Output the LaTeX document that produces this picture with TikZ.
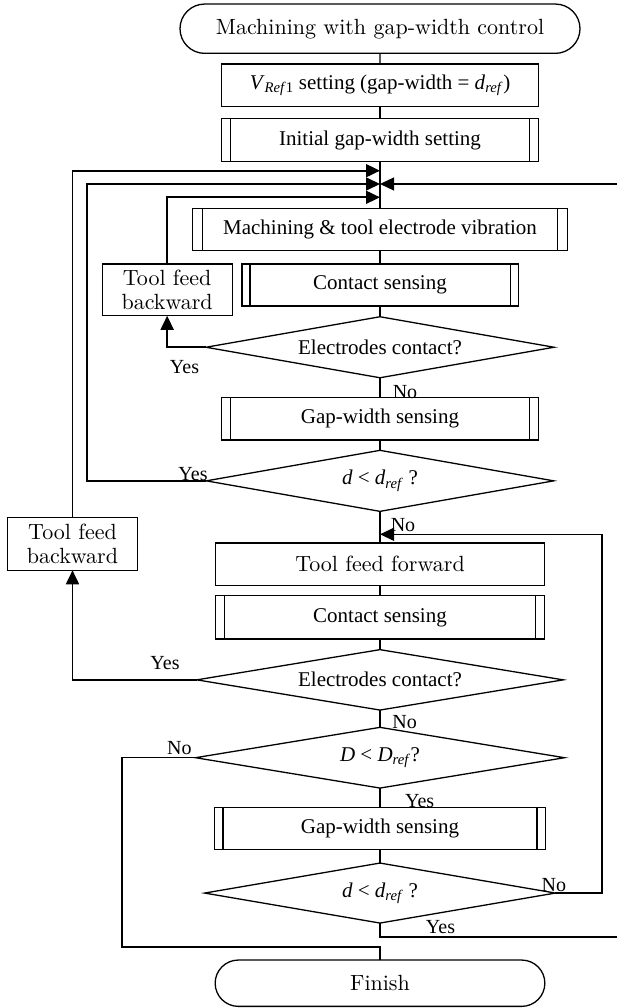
\documentclass[tikz,border=0pt]{standalone}
\usepackage{fontspec}
\newfontfamily\tnr{Liberation Serif}
\newfontfamily\cent{lmroman10-regular.otf}
\usepackage{tikz}
\usetikzlibrary{%
  arrows.meta,%
  shapes.misc,% wg. rounded rectangle
  shapes.geometric,% wg. diamond
  positioning% wg. " of "
}
\newcommand{\dref}{\textit{d}\textsubscript{\textit{ref}}}
\newcommand{\Dref}{\textit{D}\textsubscript{\textit{ref}}}

\begin{document}
\begin{tikzpicture}[x=1pt,y=-1pt,line width=1.3pt,
    every node/.style={inner sep=0pt,outer sep=0pt},
    box/.style={draw,rectangle,font=\tnr\fontsize{21}{25}\selectfont},
    cbox/.style={draw,rectangle,align=center,font=\cent\fontsize{22}{24}\selectfont},
    subproc/.style={box,path picture={
      \draw ([xshift=#1]path picture bounding box.north west) -- ([xshift=#1]path picture bounding box.south west)
            ([xshift=-#1]path picture bounding box.north east) -- ([xshift=-#1]path picture bounding box.south east);}},
    subproc/.default=9pt,
    term/.style={draw,rounded rectangle,font=\cent\fontsize{22}{24}\selectfont},
    test/.style={draw,diamond,aspect=6,font=\tnr\fontsize{21}{25}\selectfont},
    lab/.style={font=\tnr\fontsize{20}{22}\selectfont},
    fb/.style={line width=1.8pt},
    arr/.style={-{Triangle[length=14pt,width=13pt]}}]
    \useasboundingbox (0,0) rectangle (617,1008);

    %main column
    \node[term] (start) at (380,28.7) [minimum width=400pt,minimum height=49.3pt] {Machining with gap-width control};
    \node[box] (vref) [below=10.7pt of start,minimum width=317.6pt,minimum height=42.7pt] {\textit{V}\textsubscript{\textit{Ref}1} setting (gap-width = \dref)};
    \node[subproc=9.5pt] (init) [below=11.6pt of vref,minimum width=317.6pt,minimum height=43.4pt] {Initial gap-width setting};
    \node[subproc=10pt] (mach) [below=46.6pt of init,minimum width=374.6pt,minimum height=42.4pt] {Machining \& tool electrode vibration};
    \node[subproc=8pt] (cs_1) [below=13.3pt of mach,minimum width=276.3pt,minimum height=42pt] {Contact sensing};
    \node[test] (ec_1) [below=10.7pt of cs_1,minimum width=348pt,minimum height=61pt] {Electrodes contact?};
    \node[subproc] (gw_1) [below=20pt of ec_1,minimum width=317.6pt,minimum height=42.3pt] {Gap-width sensing};
    \node[test] (cmp_1) [below=10.3pt of gw_1,minimum width=347.4pt,minimum height=61pt] {\textit{d} < \dref\ ?};
    \node[cbox] (fwd) [below=31.7pt of cmp_1,minimum width=329.6pt,minimum height=42.6pt] {Tool feed forward};
    \node[subproc] (cs_2) [below=10pt of fwd,minimum width=329.6pt,minimum height=43.4pt] {Contact sensing};
    \node[test] (ec_2) [below=10.6pt of cs_2,minimum width=366.4pt,minimum height=60.4pt] {Electrodes contact?};
    \node[test] (cmpD) [below=17.3pt of ec_2,minimum width=369pt,minimum height=60.7pt] {\textit{D} < \Dref?};
    \node[subproc=8.4pt] (gw_2) [below=19.3pt of cmpD,minimum width=330.7pt,minimum height=42.3pt] {Gap-width sensing};
    \node[test] (cmp_2) [below=13.4pt of gw_2,minimum width=350.7pt,minimum height=60pt] {\textit{d} < \dref\ ?};
    \node[term] (finish) [below=37pt of cmp_2,minimum width=329.7pt,minimum height=46.3pt] {Finish};

    %side boxes
    \node[cbox] (back_1) [below left=0pt and 9.7pt of cs_1.north west,minimum width=130pt,minimum height=51.7pt] {Tool feed\\backward};
    \node[cbox] (back_2) at (72.5,544) [minimum width=130.4pt,minimum height=52.6pt] {Tool feed\\backward};

    %junctions on the main line
    \coordinate (j_1) at (380,170.7);
    \coordinate (j_2) at (380,184);
    \coordinate (j_3) at (380,197.3);
    \coordinate (j_4) at (380,534.3);
    \coordinate (j_5) at (380,947);
    \coordinate (x_2) at (86.7,0);
    \coordinate (x_4) at (602,0);
    \coordinate (x_5) at (122,0);
    \coordinate (e_1) at (617,184);
    \coordinate (e_2) at (617,937);

    %main line
    \path
    (start) edge (vref)
    (vref) edge (init)
    (init) edge (mach)
    (mach) edge (cs_1)
    (cs_1) edge (ec_1)
    (ec_1) edge (gw_1)
    (gw_1) edge (cmp_1)
    (cmp_1) edge (fwd)
    (fwd) edge (cs_2)
    (cs_2) edge (ec_2)
    (ec_2) edge (cmpD)
    (cmpD) edge (gw_2)
    (gw_2) edge (cmp_2);

    %exit to the right
    \draw (cmp_2.south) |- (e_2);
    \draw[arr] (e_1) -- (j_2);

    %loops back
    \draw[fb,arr] (ec_1.west) -| (back_1.south);
    \draw[fb,arr] (back_1.north) |- (j_3);
    \draw[fb,arr] (cmp_1.west) -| (x_2 |- j_2) -- (j_2);
    \draw[fb,arr] (ec_2.west) -| (back_2.south);
    \draw[fb,arr] (back_2.north) |- (j_1);
    \draw[arr] (cmp_2.east) -| (x_4 |- j_4) -- (j_4);
    \draw (cmpD.west) -| (x_5 |- j_5) -- (j_5) -- (finish.north);

    %yes / no
    \node[lab] (y_1) at (184.5,366.7) {Yes};
    \node[lab] (n_1) at (405,392) {No};
    \node[lab] (y_2) at (193,474.3) {Yes};
    \node[lab] (n_2) at (403,525.3) {No};
    \node[lab] (y_3) at (165,662.7) {Yes};
    \node[lab] (n_3) at (404.7,722) {No};
    \node[lab] (n_4) at (179.3,748) {No};
    \node[lab] (y_4) at (419.7,801) {Yes};
    \node[lab] (n_5) at (553.8,885.3) {No};
    \node[lab] (y_5) at (440.5,927) {Yes};
\end{tikzpicture}
\end{document}
